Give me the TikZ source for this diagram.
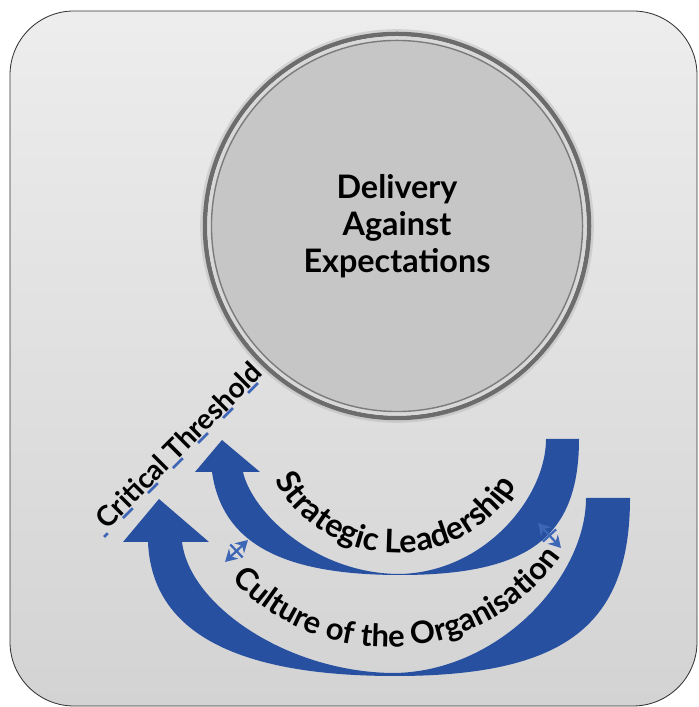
\documentclass[tikz,border=0pt]{standalone}
\usepackage{fontspec}
\setmainfont{Lato}
\usetikzlibrary{arrows.meta,decorations.text}
\definecolor{panel_top}{RGB}{237,237,237}
\definecolor{panel_bottom}{RGB}{211,211,211}
\definecolor{disc_fill}{RGB}{198,198,198}
\definecolor{ring_dark}{RGB}{108,108,108}
\definecolor{ring_light}{RGB}{216,216,216}
\definecolor{arc_blue}{RGB}{39,80,161}
\definecolor{dash_blue}{RGB}{62,102,182}
\newcommand{\arclabel}{\bfseries\fontsize{23}{27}\selectfont}
\newcommand{\arclabelwide}{\bfseries\fontsize{22}{26}\selectfont}
\tikzstyle{panel}=[draw=black!80,line width=0.6pt,top color=panel_top,
  bottom color=panel_bottom,rounded corners=1.6cm]
\tikzstyle{disc}=[circle,fill=disc_fill,draw=ring_dark!90,line width=1pt,
  minimum size=9.275cm,inner sep=0pt,align=center,
  font=\bfseries\fontsize{23}{26.2}\selectfont]
\tikzstyle{band}=[fill=arc_blue]
\tikzstyle{threshold}=[draw=dash_blue,line width=1.8pt,
  dash pattern=on 0.35cm off 0.535cm,dash phase=0.2175cm]
\tikzstyle{gapmark}=[draw=dash_blue,line width=1.6pt,
  {Stealth[length=0.3cm,width=0.34cm]}-{Stealth[length=0.3cm,width=0.34cm]}]
\tikzstyle{gapbar}=[draw=dash_blue,line width=1.6pt]

\begin{document}
\begin{tikzpicture}[x=0.025cm, y=0.025cm]
    \useasboundingbox (0,0) rectangle (698,707);
    \draw[panel] (10,1) rectangle (697,696);

    % outcome circle
    \coordinate (goal_c) at (397,481);
    \draw[ring_dark!60, line width=4pt, opacity=0.35] (goal_c) circle (194);
    \draw[ring_dark, line width=3.2pt] (goal_c) circle (192);
    \draw[ring_light, line width=2.5pt] (goal_c) circle (188);
    \node[disc] (goal) at (goal_c) {Delivery\\Against\\Expectations};

    % strategic leadership arrow
    \fill[band] (579,268) .. controls (579,170) and (529,132) .. (400,132)
      .. controls (280,132) and (222,165) .. (212,235)
      -- (195,235) -- (222,267) -- (260,235) -- (243,235)
      .. controls (252,195) and (315,133) .. (400,133)
      .. controls (485,135) and (546,210) .. (546,268) -- cycle;
    % culture arrow
    \fill[band] (630,209) .. controls (630,81) and (564,31) .. (395,31)
      .. controls (245,31) and (152,70) .. (148,165)
      -- (123,165) -- (159,208) -- (209,165) -- (182,165)
      .. controls (190,100) and (290,34) .. (395,34)
      .. controls (500,36) and (586,130) .. (586,209) -- cycle;

    % labels along the arrows
    \coordinate (lead_c) at (397,294);
    \path[decorate, decoration={text along path, text align=center,
      text={|\arclabel|Strategic Leadership}}]
      ([shift={(179:140)}]lead_c) arc[start angle=179, end angle=359, radius=140];
    \coordinate (culture_c) at (387,272);
    \path[decorate, decoration={text along path, text align=center,
      text={|\arclabelwide|Culture of the Organisation}}]
      ([shift={(184:212)}]culture_c) arc[start angle=184, end angle=364, radius=212];

    % threshold
    \coordinate (crit_a) at (104,170);
    \coordinate (crit_b) at (259,325);
    \draw[threshold] (crit_a) -- (crit_b);
    \node[rotate=45, font=\bfseries\fontsize{20}{24}\selectfont] (crit) at (178.5,262) {Critical Threshold};

    % gap markers
    \coordinate (gap_l1) at (225,145);
    \coordinate (gap_l2) at (248,167);
    \coordinate (gap_l3) at (230.3,162.5);
    \coordinate (gap_l4) at (242.7,149.5);
    \draw[gapmark] (gap_l1) -- (gap_l2);
    \draw[gapbar] (gap_l3) -- (gap_l4);
    \coordinate (gap_r1) at (538,184);
    \coordinate (gap_r2) at (561,159);
    \coordinate (gap_r3) at (542.9,165.4);
    \coordinate (gap_r4) at (556.1,177.6);
    \draw[gapmark] (gap_r1) -- (gap_r2);
    \draw[gapbar] (gap_r3) -- (gap_r4);
  \end{tikzpicture}
\end{document}
